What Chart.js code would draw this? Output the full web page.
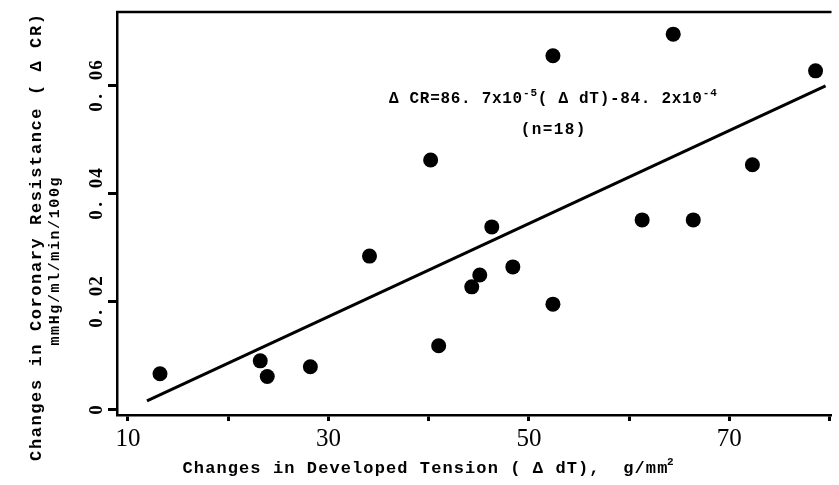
<!DOCTYPE html>
<html><head><meta charset="utf-8">
<script src="https://cdn.jsdelivr.net/npm/chart.js@4.4.0/dist/chart.umd.min.js"></script>
<style>html,body{margin:0;padding:0;background:#fff}#wrap{width:839px;height:485px;position:relative}</style>
</head><body><div id="wrap"><canvas id="c"></canvas></div>
<script>
// ---- data ----
const tensionX = [13.2, 23.2, 23.9, 28.2, 34.1, 40.2, 41.0, 44.3, 45.1, 46.3, 48.4, 52.4, 52.4, 61.3, 64.4, 66.4, 72.3, 78.6];
const resistanceY = [0.0067, 0.0091, 0.0062, 0.0080, 0.0285, 0.0463, 0.0119, 0.0228, 0.0250, 0.0339, 0.0265, 0.0656, 0.0196, 0.0352, 0.0696, 0.0352, 0.0454, 0.0628];
const fitLineX = [11.9, 79.6];
const fitLineY = [0.0017, 0.0600];
const xTickValues = [10, 20, 30, 40, 50, 60, 70, 80];
const xTickLabels = ['10', '', '30', '', '50', '', '70', ''];
const yTickValues = [0, 0.02, 0.04, 0.06];
const yTickLabels = ['0', '0. 02', '0. 04', '0. 06'];
const yTitle = 'Changes in Coronary Resistance ( Δ CR)';
const yUnits = 'mmHg/ml/min/100g';
const xTitle = 'Changes in Developed Tension ( Δ dT),  g/mm';
const xTitleSup = '2';
const equationParts = [['Δ CR=86. 7x10', false], ['-5', true], ['( Δ dT)-84. 2x10', false], ['-4', true]];
const nLabel = '(n=18)';

const MONO = '"Liberation Mono", "DejaVu Sans Mono", monospace';
const SERIF = '"Liberation Serif", "DejaVu Serif", serif';

function drawSpaced(ctx, text, x, y, adv, align) {
  const total = text.length * adv;
  const start = align === 'center' ? x - total / 2 : x;
  ctx.textAlign = 'center';
  for (let i = 0; i < text.length; i++) {
    ctx.fillText(text[i], start + adv * (i + 0.5), y);
  }
  return start + total;
}

const textPlugin = {
  id: 'texts',
  afterDraw(chart) {
    const ctx = chart.ctx;
    const ca = chart.chartArea;
    const xs = chart.scales.x, ys = chart.scales.y;
    ctx.save();
    ctx.fillStyle = '#000';
    ctx.strokeStyle = '#000';
    // top frame line
    ctx.lineWidth = 2.5;
    ctx.beginPath();
    ctx.moveTo(ca.left - 1, ca.top);
    ctx.lineTo(ca.right, ca.top);
    ctx.stroke();
    ctx.textBaseline = 'middle';
    // y tick labels (rotated)
    ctx.font = 'bold 19px ' + SERIF;
    yTickValues.forEach((v, i) => {
      const py = ys.getPixelForValue(v);
      ctx.save();
      ctx.translate(ca.left - 20, py);
      ctx.rotate(-Math.PI / 2);
      drawSpaced(ctx, yTickLabels[i], 0, 0, 10.5, 'center');
      ctx.restore();
    });
    // y axis title and units
    ctx.save();
    ctx.translate(37, (ca.top + ca.bottom) / 2 + 24);
    ctx.rotate(-Math.PI / 2);
    ctx.font = 'bold 17px ' + MONO;
    drawSpaced(ctx, yTitle, 0, 0, 11.8, 'center');
    ctx.restore();
    ctx.save();
    ctx.translate(55, (ca.top + ca.bottom) / 2 + 48);
    ctx.rotate(-Math.PI / 2);
    ctx.font = 'bold 15px ' + MONO;
    drawSpaced(ctx, yUnits, 0, 0, 10.6, 'center');
    ctx.restore();
    // x axis title
    ctx.font = 'bold 17px ' + MONO;
    const endX = drawSpaced(ctx, xTitle, 182, ca.bottom + 54, 11.3, 'left');
    ctx.font = 'bold 11px ' + MONO;
    ctx.textAlign = 'left';
    ctx.fillText(xTitleSup, endX - 1, ca.bottom + 47);
    // equation
    const adv = 10.3, supAdv = 7.5;
    let total = 0;
    equationParts.forEach(([t, sup]) => { total += t.length * (sup ? supAdv : adv); });
    const cx = xs.getPixelForValue(52.4);
    const ey = ys.getPixelForValue(0.0576);
    let px = cx - total / 2;
    equationParts.forEach(([t, sup]) => {
      if (sup) {
        ctx.font = 'bold 11px ' + MONO;
        px = drawSpaced(ctx, t, px, ey - 6, supAdv, 'left');
      } else {
        ctx.font = 'bold 16px ' + MONO;
        px = drawSpaced(ctx, t, px, ey, adv, 'left');
      }
    });
    ctx.font = 'bold 16px ' + MONO;
    drawSpaced(ctx, nLabel, cx, ys.getPixelForValue(0.0519), 11, 'center');
    ctx.restore();
  }
};

new Chart(document.getElementById('c'), {
  data: {
    datasets: [
      {
        type: 'scatter',
        data: tensionX.map((x, i) => ({ x, y: resistanceY[i] })),
        backgroundColor: '#000',
        borderWidth: 0,
        pointRadius: 7.5,
        pointHoverRadius: 7.5
      },
      {
        type: 'line',
        data: fitLineX.map((x, i) => ({ x, y: fitLineY[i] })),
        borderColor: '#000',
        borderWidth: 3,
        pointRadius: 0,
        fill: false
      }
    ]
  },
  options: {
    responsive: true,
    maintainAspectRatio: false,
    animation: false,
    layout: { padding: { top: 12, right: 0, left: 0, bottom: 0 } },
    plugins: { legend: { display: false }, tooltip: { enabled: false } },
    scales: {
      x: {
        type: 'linear',
        min: 8.91,
        max: 80.19,
        afterBuildTicks: s => { s.ticks = xTickValues.map(value => ({ value })); },
        afterFit: s => { s.height = 70; },
        ticks: {
          autoSkip: false,
          maxRotation: 0,
          minRotation: 0,
          padding: 3,
          color: '#000',
          font: { family: SERIF, size: 25 },
          callback: (v) => { const i = xTickValues.indexOf(v); return i >= 0 ? xTickLabels[i] : ''; }
        },
        grid: { drawOnChartArea: false, drawTicks: true, tickLength: 6, tickWidth: 3, tickColor: '#000' },
        border: { display: true, color: '#000', width: 2.5 }
      },
      y: {
        type: 'linear',
        min: -0.00093,
        max: 0.0737,
        afterBuildTicks: s => { s.ticks = yTickValues.map(value => ({ value })); },
        afterFit: s => { s.width = 117; },
        ticks: { display: false },
        grid: { drawOnChartArea: false, drawTicks: true, tickLength: 9, tickWidth: 3, tickColor: '#000' },
        border: { display: true, color: '#000', width: 2.5 }
      }
    }
  },
  plugins: [textPlugin]
});
</script>
</body></html>
